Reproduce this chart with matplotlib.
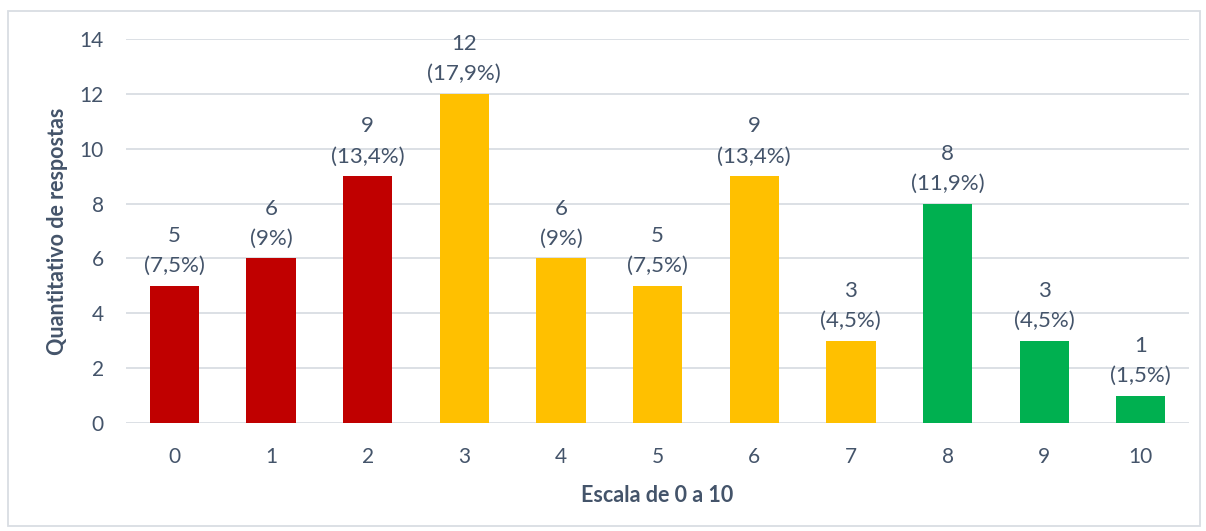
import matplotlib.pyplot as plt
from matplotlib.patches import Rectangle

# Respostas por nota (escala de 0 a 10)
notas = ["0", "1", "2", "3", "4", "5", "6", "7", "8", "9", "10"]
respostas = [5, 6, 9, 12, 6, 5, 9, 3, 8, 3, 1]
percentuais = ["7,5%", "9%", "13,4%", "17,9%", "9%", "7,5%", "13,4%", "4,5%", "11,9%", "4,5%", "1,5%"]
cores = ["#C00000"] * 3 + ["#FFC000"] * 5 + ["#00B050"] * 3

texto = "#44546A"
plt.rcParams["font.family"] = ["Lato", "DejaVu Sans"]

fig = plt.figure(figsize=(12.06, 5.31), dpi=100)
ax = fig.add_axes([0.1045, 0.2034, 0.8815, 0.7232])

x = range(len(notas))
ax.bar(x, respostas, width=0.51, color=cores, zorder=3)

for i, (v, p) in enumerate(zip(respostas, percentuais)):
    ax.annotate(f"{v}\n({p})", (i, v), xytext=(0, 7), textcoords="offset points",
                ha="center", va="bottom", fontsize=16, color=texto, linespacing=1.62)

ax.set_xlim(-0.5, len(notas) - 0.5)
ax.set_ylim(0, 14)
ax.set_yticks(range(0, 15, 2))
ax.set_xticks(list(x))
ax.set_xticklabels(notas)
ax.grid(axis="y", color="#D9DDE3", linewidth=1.3, zorder=0)
for s in ax.spines.values():
    s.set_visible(False)
ax.tick_params(length=0, labelsize=15, labelcolor=texto)
ax.tick_params(axis="x", pad=17)
ax.tick_params(axis="y", pad=16)

ax.set_xlabel("Escala de 0 a 10", fontsize=15.5, fontweight="bold", color=texto, labelpad=13)
ax.set_ylabel("Quantitativo de respostas", fontsize=15.5, fontweight="bold", color=texto, labelpad=8)

# moldura externa
fig.patches.append(Rectangle((0.007, 0.01), 0.988, 0.97, transform=fig.transFigure,
                             fill=False, edgecolor="#D9DDE3", linewidth=1.3))

fig.savefig("out.png", dpi=100)
